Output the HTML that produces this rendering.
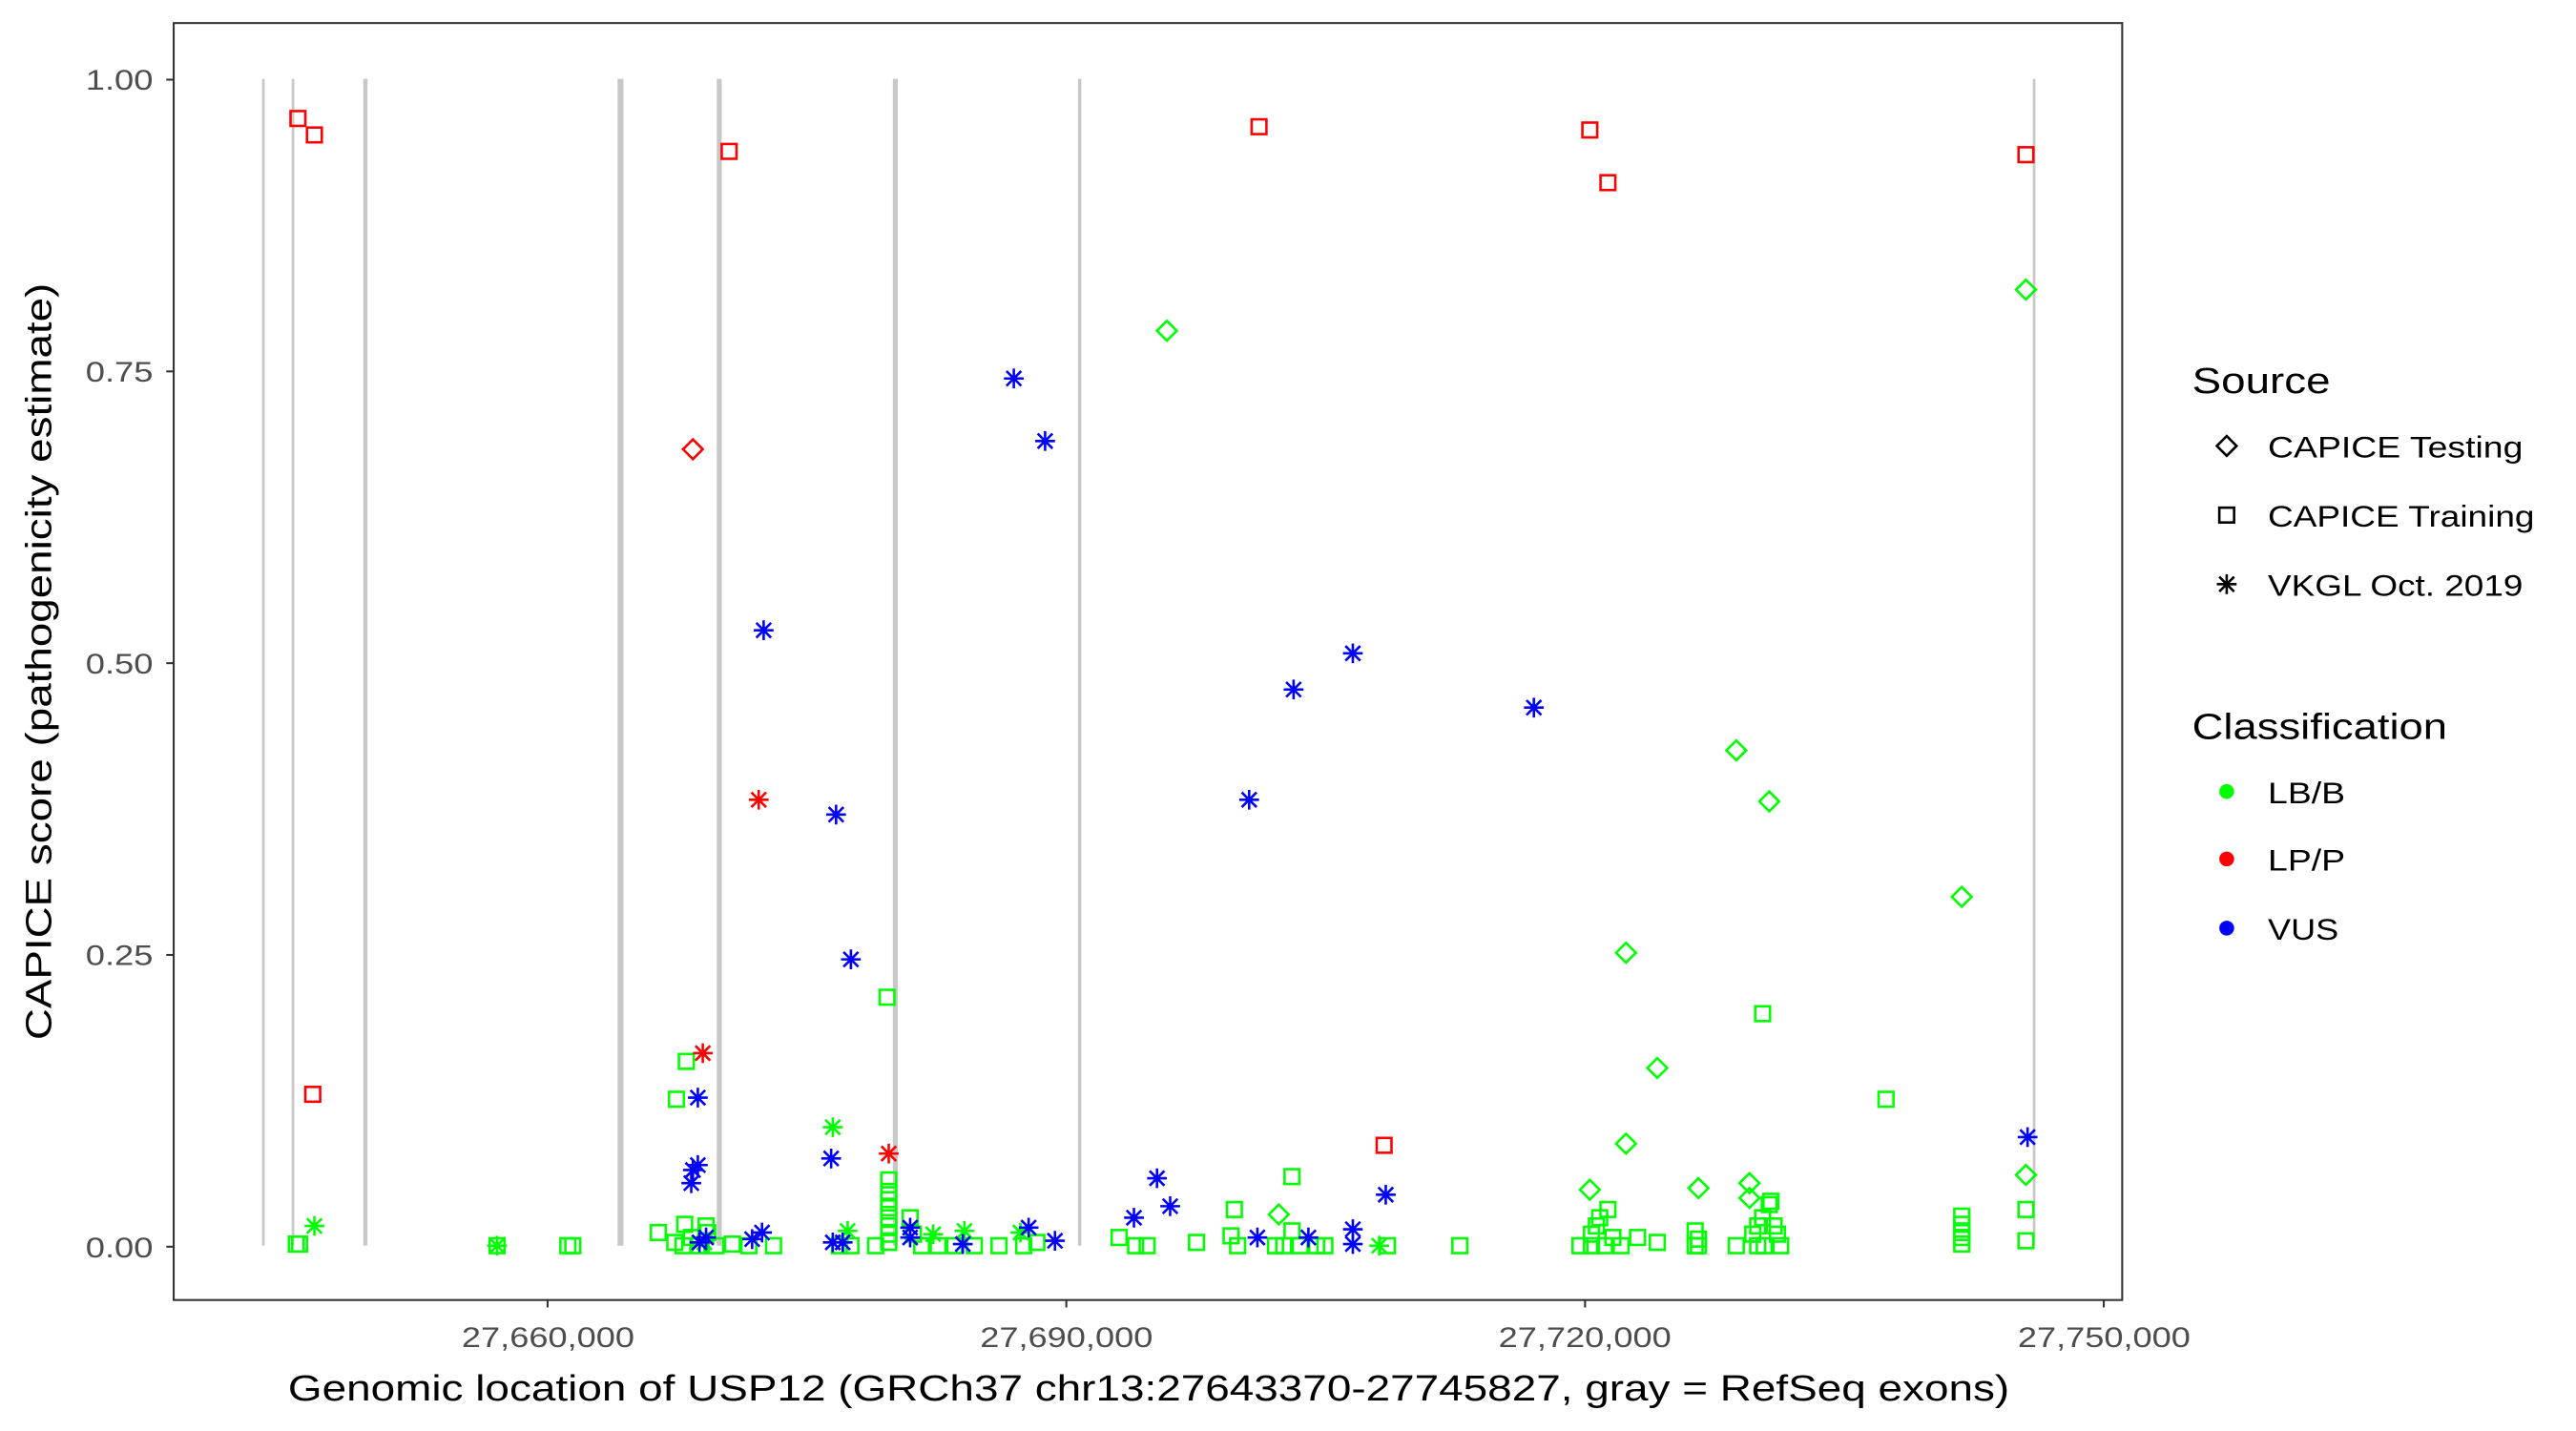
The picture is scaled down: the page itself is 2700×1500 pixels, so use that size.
<!DOCTYPE html>
<html><head><meta charset="utf-8"><style>
html,body{margin:0;padding:0;background:#fff;}
svg{display:block;font-family:"Liberation Sans",Arial,sans-serif;}
</style></head><body>
<svg id="s" width="2700" height="1500" viewBox="0 0 1565.2 869.6" xmlns="http://www.w3.org/2000/svg">
<rect x="0" y="0" width="1565.2" height="869.6" fill="#fff"/>
<g id="exons" stroke="#c8c8c8">
<line x1="160" y1="48" x2="160" y2="757" stroke-width="1.6"/>
<line x1="178" y1="48" x2="178" y2="757" stroke-width="1.6"/>
<line x1="222" y1="48" x2="222" y2="757" stroke-width="2.6"/>
<line x1="377" y1="48" x2="377" y2="757" stroke-width="3.6"/>
<line x1="437" y1="48" x2="437" y2="757" stroke-width="3"/>
<line x1="544" y1="48" x2="544" y2="757" stroke-width="3"/>
<line x1="656" y1="48" x2="656" y2="757" stroke-width="2"/>
<line x1="1236" y1="48" x2="1236" y2="757" stroke-width="1.6"/>
</g>
<g id="pts" fill="none" stroke-width="1.5"></g>
<rect x="105.5" y="14" width="1184" height="776" fill="none" stroke="#333" stroke-width="1.2"/>
<g stroke="#333" stroke-width="1.2">
<line x1="101" y1="48.4" x2="105.5" y2="48.4"/><line x1="101" y1="225.7" x2="105.5" y2="225.7"/>
<line x1="101" y1="403" x2="105.5" y2="403"/><line x1="101" y1="580.3" x2="105.5" y2="580.3"/>
<line x1="101" y1="757.6" x2="105.5" y2="757.6"/>
<line x1="332.7" y1="790" x2="332.7" y2="794.5"/><line x1="647.9" y1="790" x2="647.9" y2="794.5"/>
<line x1="963.1" y1="790" x2="963.1" y2="794.5"/><line x1="1278.3" y1="790" x2="1278.3" y2="794.5"/>
</g>
<g fill="#4d4d4d" font-size="17" text-anchor="end" lengthAdjust="spacingAndGlyphs">
<text x="93" y="54.5" textLength="41" lengthAdjust="spacingAndGlyphs">1.00</text><text x="93" y="232" textLength="41" lengthAdjust="spacingAndGlyphs">0.75</text><text x="93" y="409.3" textLength="41" lengthAdjust="spacingAndGlyphs">0.50</text>
<text x="93" y="586.5" textLength="41" lengthAdjust="spacingAndGlyphs">0.25</text><text x="93" y="764" textLength="41" lengthAdjust="spacingAndGlyphs">0.00</text>
</g>
<g fill="#4d4d4d" font-size="17">
<text x="280.5" y="818.5" textLength="105" lengthAdjust="spacingAndGlyphs">27,660,000</text><text x="595.5" y="818.5" textLength="105" lengthAdjust="spacingAndGlyphs">27,690,000</text>
<text x="910.5" y="818.5" textLength="105" lengthAdjust="spacingAndGlyphs">27,720,000</text><text x="1226" y="818.5" textLength="105" lengthAdjust="spacingAndGlyphs">27,750,000</text>
</g>
<text x="175" y="851" font-size="22" textLength="1046" lengthAdjust="spacingAndGlyphs" fill="#000">Genomic location of USP12 (GRCh37 chr13:27643370-27745827, gray = RefSeq exons)</text>
<text transform="translate(31,632) rotate(-90)" font-size="22" textLength="460" lengthAdjust="spacingAndGlyphs" fill="#000">CAPICE score (pathogenicity estimate)</text>
<text x="1332" y="239" font-size="22" textLength="84" lengthAdjust="spacingAndGlyphs">Source</text>
<g font-size="18"><text x="1378" y="278" textLength="155" lengthAdjust="spacingAndGlyphs">CAPICE Testing</text><text x="1378" y="320" textLength="162" lengthAdjust="spacingAndGlyphs">CAPICE Training</text><text x="1378" y="362" textLength="155" lengthAdjust="spacingAndGlyphs">VKGL Oct. 2019</text></g>
<text x="1332" y="449" font-size="22" textLength="155" lengthAdjust="spacingAndGlyphs">Classification</text>
<g font-size="18"><text x="1378" y="488" textLength="47" lengthAdjust="spacingAndGlyphs">LB/B</text><text x="1378" y="529" textLength="47" lengthAdjust="spacingAndGlyphs">LP/P</text><text x="1378" y="571" textLength="43" lengthAdjust="spacingAndGlyphs">VUS</text></g>
<circle cx="1353" cy="481" r="4.5" fill="#00ff00"/><circle cx="1353" cy="522" r="4.5" fill="#ff0000"/><circle cx="1353" cy="564" r="4.5" fill="#0000ff"/>
<g id="leg" fill="none" stroke="#000" stroke-width="1.5"></g>
</svg>
<script>
var NS="http://www.w3.org/2000/svg";
function el(p,t,a){var e=document.createElementNS(NS,t);for(var k in a)e.setAttribute(k,a[k]);p.appendChild(e);return e;}
function sq(g,x,y,c){el(g,"rect",{x:x-4.5,y:y-4.5,width:9,height:9,stroke:c});}
function di(g,x,y,c){el(g,"polygon",{points:(x-6)+","+y+" "+x+","+(y-6)+" "+(x+6)+","+y+" "+x+","+(y+6),stroke:c});}
function as(g,x,y,c){var r=6,d=4.5;el(g,"path",{d:"M"+(x-r)+" "+y+"H"+(x+r)+"M"+x+" "+(y-r)+"V"+(y+r)+"M"+(x-d)+" "+(y-d)+"L"+(x+d)+" "+(y+d)+"M"+(x-d)+" "+(y+d)+"L"+(x+d)+" "+(y-d),stroke:c});}
var g=document.getElementById("pts");
var R="#ff0000",B="#0000ff",G="#00ff00";
var gs=[[539,606],[1071,616],[1146,668],[417,645],[411,668],[785,715],[750,735],[1231,735],[1192,739],[1192,744],[1192,749],[1192,752],[1192,756],[1231,754],[540,717],[540,724],[540,729],[540,734],[540,740],[540,745],[540,750],[540,755],[553,740],[555,750],[416,744],[400,749],[429,745],[430,749],[420,752],[410,755],[415,757],[435,757],[445,756],[470,757],[180,756],[182,756],[302,757],[345,757],[348,757],[517,757],[560,757],[570,757],[580,757],[592,757],[607,757],[622,757],[630,755],[680,752],[690,757],[697,757],[727,755],[748,751],[752,757],[775,757],[780,757],[785,748],[790,757],[800,757],[805,757],[843,757],[887,757],[967,750],[970,745],[972,740],[975,757],[977,735],[980,752],[985,757],[995,752],[1007,755],[1030,748],[1032,753],[1032,757],[1055,757],[1065,750],[1068,745],[1071,740],[1075,732],[1076,730],[1078,745],[1080,750],[1082,757],[1068,757],[1072,757],[967,757],[960,757],[425,757],[455,757],[510,757],[532,757],[1030,757]];
gs.forEach(function(p){sq(g,p[0],p[1],G);});
[[709,201],[1231,176],[1055,456],[1075,487],[1192,545],[988,579],[1007,649],[988,695],[966,723],[1032,722],[1063,719],[1063,728],[777,738],[1231,714]].forEach(function(p){di(g,p[0],p[1],G);});
[[191,745],[302,757],[506,685],[515,748],[567,750],[586,748],[838,757],[620,749],[428,755]].forEach(function(p){as(g,p[0],p[1],G);});
[[181,72],[191,82],[443,92],[765,77],[966,79],[977,111],[1231,94],[190,665],[841,696]].forEach(function(p){sq(g,p[0],p[1],R);});
di(g,421,273,R);
[[461,486],[427,640],[540,701]].forEach(function(p){as(g,p[0],p[1],R);});
[[616,230],[635,268],[464,383],[508,495],[517,583],[424,667],[421,711],[424,708],[420,719],[505,704],[786,419],[822,397],[759,486],[932,430],[1232,691],[703,716],[711,733],[689,740],[842,726],[822,747],[625,746],[641,754],[553,746],[553,752],[463,749],[457,753],[429,752],[425,755],[506,755],[512,755],[585,756],[764,752],[795,752],[822,756]].forEach(function(p){as(g,p[0],p[1],B);});
var l=document.getElementById("leg");
di(l,1353,271,"#000");sq(l,1353,313,"#000");as(l,1353,355,"#000");
</script>
</body></html>
